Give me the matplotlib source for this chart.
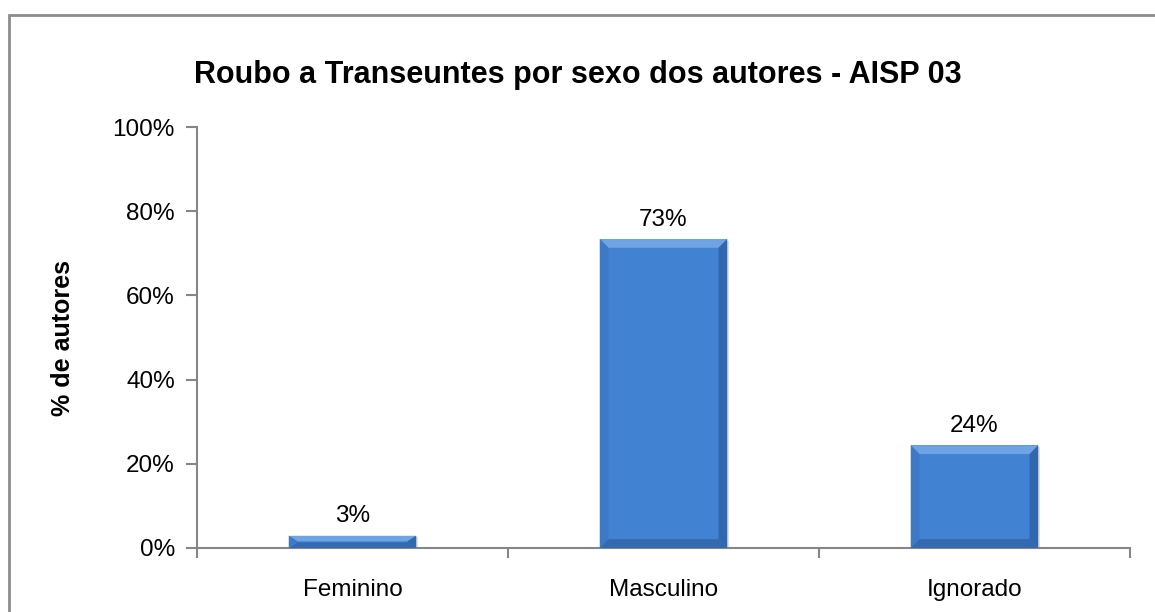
import matplotlib
matplotlib.use("Agg")
import matplotlib.pyplot as plt
from matplotlib.patches import Polygon, Rectangle
from matplotlib.ticker import FuncFormatter

categories = ["Feminino", "Masculino", "Ignorado"]
values = [2.9, 73.4, 24.4]
title = "Roubo a Transeuntes por sexo dos autores - AISP 03"
ylabel = "% de autores"

plt.rcParams['font.family'] = ['Liberation Sans', 'DejaVu Sans']

fig = plt.figure(figsize=(11.55, 6.12), dpi=100)
ax = fig.add_axes([197/1155, 1-548/612, (1130-197)/1155, (548-127)/612])

x = list(range(len(categories)))
bw = 0.41
base = "#4282D2"
bars = ax.bar(x, values, width=bw, color=base, edgecolor="none", zorder=2)

# bevel effect
bx = 0.028
for b in bars:
    x0, w, h = b.get_x(), b.get_width(), b.get_height()
    x1 = x0 + w
    by = min(2.1, h/2.2)
    dx = bx
    ax.add_patch(Rectangle((x0+0.006, -0.5), w, h+0.1, color="#000000", alpha=0.12, zorder=1, lw=0))
    ax.add_patch(Polygon([(x0, h), (x1, h), (x1-dx, h-by), (x0+dx, h-by)],
                         closed=True, color="#6EA3E4", lw=0, zorder=3))
    ax.add_patch(Polygon([(x1, h), (x1, 0), (x1-dx, by), (x1-dx, h-by)],
                         closed=True, color="#3167AD", lw=0, zorder=3))
    ax.add_patch(Polygon([(x0, 0), (x1, 0), (x1-dx, by), (x0+dx, by)],
                         closed=True, color="#3369AE", lw=0, zorder=3))
    ax.add_patch(Polygon([(x0, 0), (x0, h), (x0+dx, h-by), (x0+dx, by)],
                         closed=True, color="#3D79C5", lw=0, zorder=3))
    ax.text(b.get_x()+w/2, h+2.0, f"{round(h):d}%", ha="center", va="bottom",
            fontsize=17.5, color="#000000", zorder=4)

ax.set_xlim(-0.5, len(categories)-0.5)
ax.set_ylim(0, 100)
ax.set_yticks([0, 20, 40, 60, 80, 100])
ax.yaxis.set_major_formatter(FuncFormatter(lambda v, p: f"{int(v)}%"))
ax.set_xticks([i-0.5 for i in range(len(categories)+1)])
ax.set_xticklabels([])
ax.set_xticks(x, minor=True)
ax.set_xticklabels(categories, minor=True)
ax.tick_params(axis="x", which="minor", length=0, pad=22, labelsize=17.5)
ax.tick_params(axis="x", which="major", length=7, width=1.5, color="#868686", direction="out")
ax.tick_params(axis="y", length=8, width=1.5, color="#868686", labelsize=17.5, pad=8)
for s in ["top", "right"]:
    ax.spines[s].set_visible(False)
for s in ["left", "bottom"]:
    ax.spines[s].set_color("#868686")
    ax.spines[s].set_linewidth(1.5)

ax.set_ylabel(ylabel, fontsize=18, fontweight="bold")
ax.yaxis.set_label_coords(-122/933, 0.5)
fig.text(0.5, 1-75/612, title, ha="center", va="center", fontsize=22, fontweight="bold")

fig.patches.append(Rectangle((9/1155, -0.1), 1.2, 1-15/612+0.1, transform=fig.transFigure,
                             fill=False, edgecolor="#8C8C8C", lw=2))

fig.savefig("out.png", dpi=100, facecolor="white")
